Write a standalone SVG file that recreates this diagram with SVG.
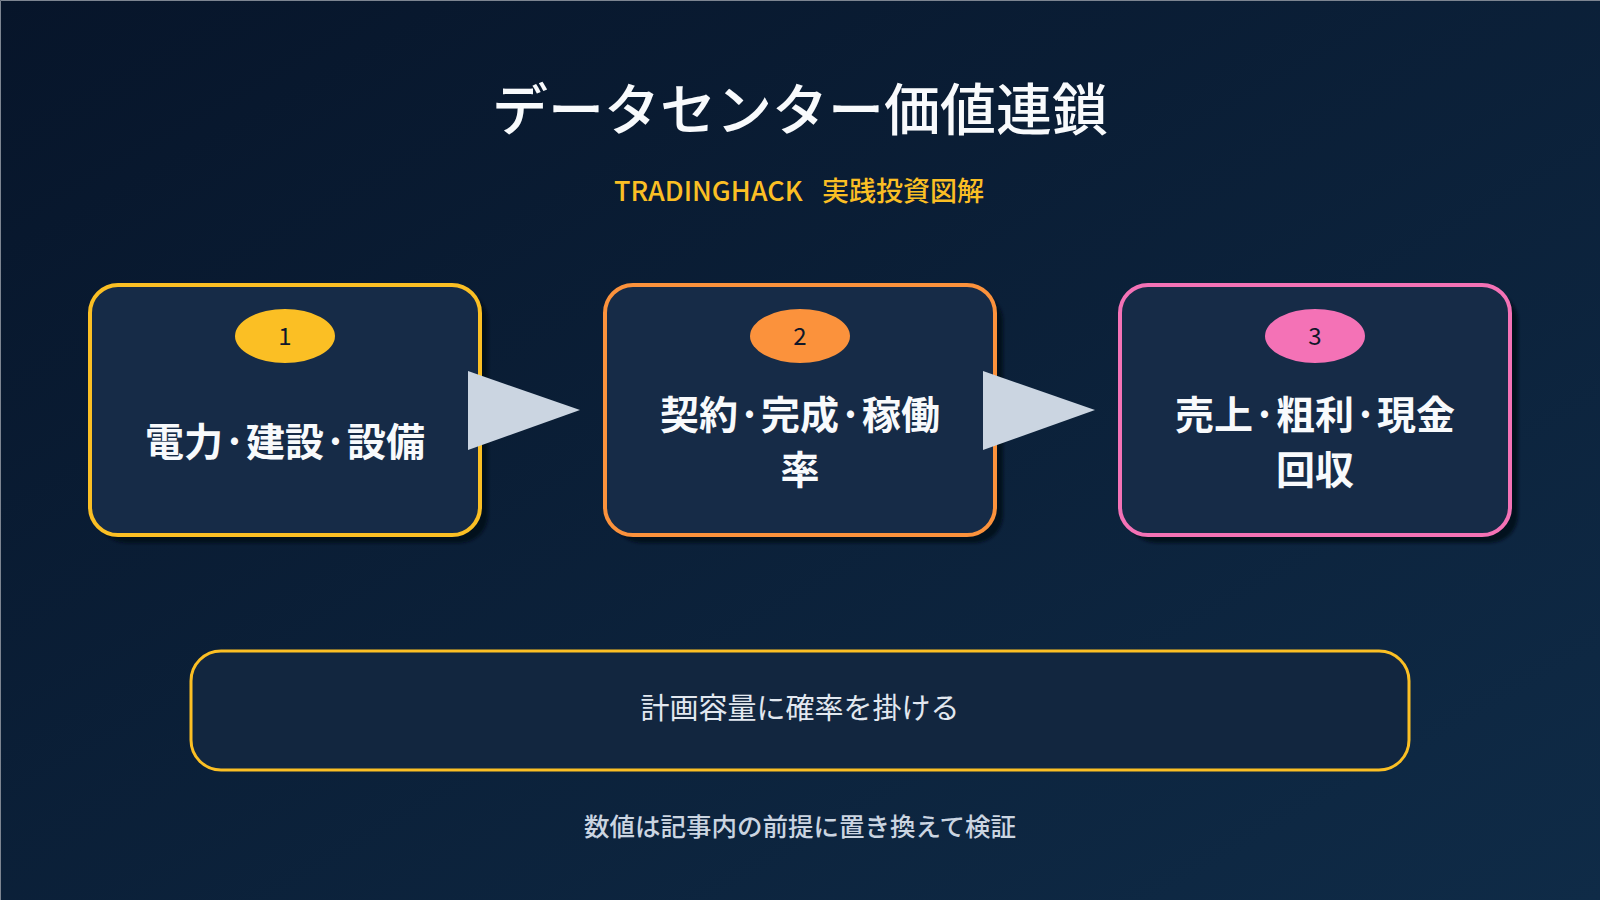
<svg xmlns="http://www.w3.org/2000/svg" width="1600" height="900" viewBox="0 0 1600 900">
  <defs>
    <linearGradient id="bg" x1="0" y1="0" x2="1" y2="1">
      <stop offset="0" stop-color="#07152a"/>
      <stop offset="1" stop-color="#0f2b47"/>
    </linearGradient>
    <filter id="sh" x="-10%" y="-10%" width="130%" height="130%">
      <feGaussianBlur stdDeviation="1.5"/>
    </filter>
    <style>
      .cjk { font-family: "Noto Sans CJK JP", "Noto Sans", sans-serif; }
      .node-box { fill: #162b47; stroke-width: 4; }
      .shadow { fill: #040b16; opacity: 0.8; }
      .label { font-size: 39px; font-weight: 700; fill: #f8fafc; text-anchor: middle; }
      .num { font-size: 24px; font-weight: 400; fill: #0f172a; text-anchor: middle; }
      .arrow { fill: #cbd5e1; }
    </style>
  </defs>

  <rect x="0" y="0" width="1600" height="900" fill="url(#bg)"/>
  <path d="M0.5 900 V0.5 H1600" fill="none" stroke="#7d8591" stroke-width="1"/>

  <text class="cjk" x="800" y="130" font-size="56" font-weight="500" fill="#f8fafc" text-anchor="middle">データセンター価値連鎖</text>
  <text class="cjk" y="201" font-size="27" font-weight="500" fill="#fbbf24"><tspan x="614">TRADINGHACK</tspan><tspan x="822">実践投資図解</tspan></text>

  <g id="node1">
    <rect class="shadow" x="98" y="293" width="390" height="250" rx="28" filter="url(#sh)"/>
    <rect class="node-box" x="90" y="285" width="390" height="250" rx="28" stroke="#fbbf24"/>
    <ellipse cx="285" cy="336" rx="50" ry="27" fill="#fbbf24"/>
    <text class="cjk num" x="285" y="345">1</text>
    <text class="cjk label" x="285" y="456">電力·建設·設備</text>
  </g>

  <g id="node2">
    <rect class="shadow" x="613" y="293" width="390" height="250" rx="28" filter="url(#sh)"/>
    <rect class="node-box" x="605" y="285" width="390" height="250" rx="28" stroke="#fb923c"/>
    <ellipse cx="800" cy="336" rx="50" ry="27" fill="#fb923c"/>
    <text class="cjk num" x="800" y="345">2</text>
    <text class="cjk label" x="800" y="429">契約·完成·稼働</text>
    <text class="cjk label" x="800" y="484">率</text>
  </g>

  <g id="node3">
    <rect class="shadow" x="1128" y="293" width="390" height="250" rx="28" filter="url(#sh)"/>
    <rect class="node-box" x="1120" y="285" width="390" height="250" rx="28" stroke="#f472b6"/>
    <ellipse cx="1315" cy="336" rx="50" ry="27" fill="#f472b6"/>
    <text class="cjk num" x="1315" y="345">3</text>
    <text class="cjk label" x="1315" y="429">売上·粗利·現金</text>
    <text class="cjk label" x="1315" y="484">回収</text>
  </g>

  <g id="connectors">
    <polygon class="arrow" points="468,371 580,410 468,450"/>
    <polygon class="arrow" points="983,371 1095,410 983,450"/>
  </g>

  <g id="note">
    <rect x="191" y="651" width="1218" height="119" rx="30" fill="#12263f" stroke="#fbbf24" stroke-width="3"/>
    <text class="cjk" x="800" y="719" font-size="29" font-weight="400" fill="#e2e8f0" text-anchor="middle">計画容量に確率を掛ける</text>
  </g>

  <text class="cjk" x="800" y="836" font-size="25.5" font-weight="500" fill="#cbd5e1" text-anchor="middle">数値は記事内の前提に置き換えて検証</text>
</svg>
